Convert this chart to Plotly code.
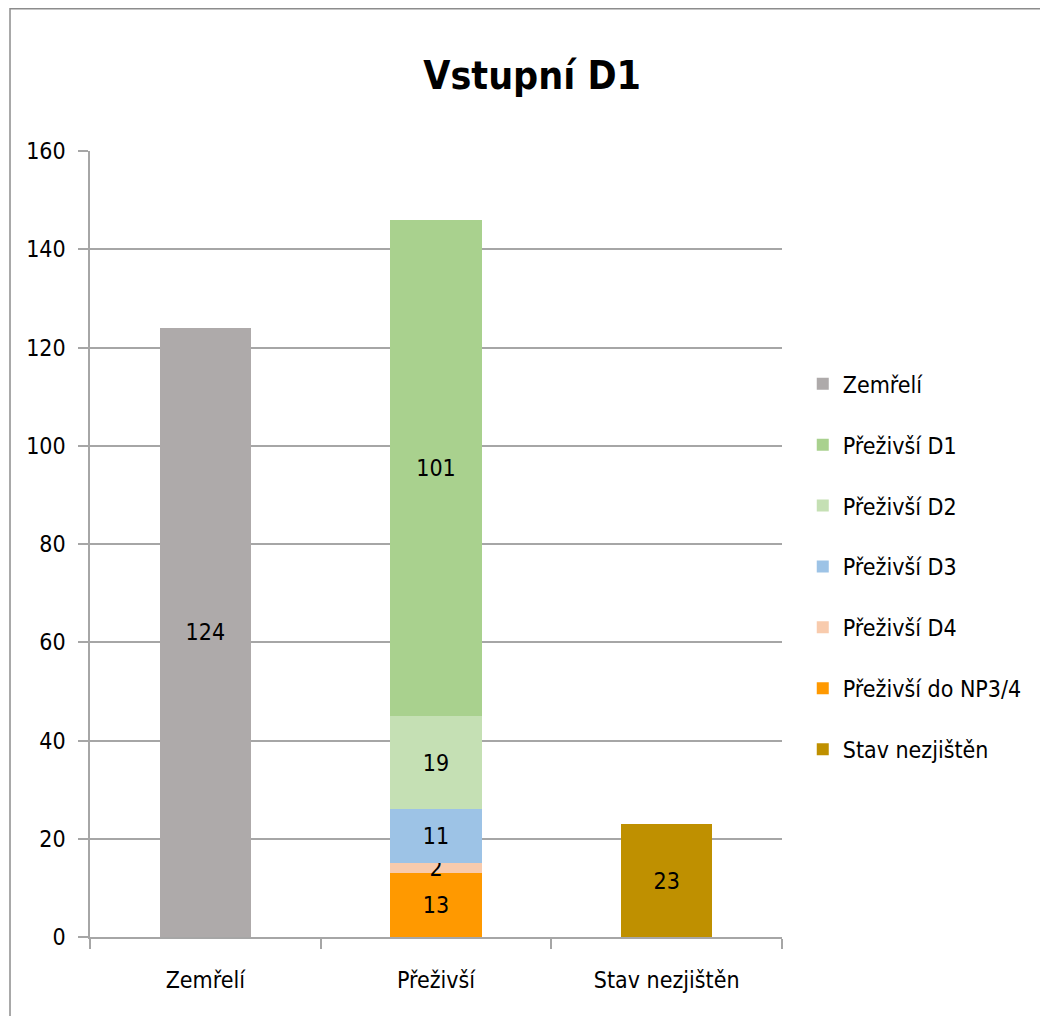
import plotly.graph_objects as go

categories = ["Zemřelí", "Přeživší", "Stav nezjištěn"]

# stacked from bottom to top
series_names = ["Zemřelí", "Přeživší do NP3/4", "Přeživší D4", "Přeživší D3",
                "Přeživší D2", "Přeživší D1", "Stav nezjištěn"]
zemreli = [124, None, None]
np34 = [None, 13, None]
d4 = [None, 2, None]
d3 = [None, 11, None]
d2 = [None, 19, None]
d1 = [None, 101, None]
nezjisten = [None, None, 23]
series_values = [zemreli, np34, d4, d3, d2, d1, nezjisten]
series_colors = ["#aeaaaa", "#ff9900", "#f8cbad", "#9dc3e6",
                 "#c5e0b4", "#a9d18e", "#bf9000"]
legend_order = ["Zemřelí", "Přeživší D1", "Přeživší D2", "Přeživší D3",
                "Přeživší D4", "Přeživší do NP3/4", "Stav nezjištěn"]

FONT = "DejaVu Sans Condensed, DejaVu Sans, sans-serif"
FS = 23

fig = go.Figure()
for name, vals, col in zip(series_names, series_values, series_colors):
    fig.add_trace(go.Bar(
        x=categories, y=vals, name=name,
        marker=dict(color=col, line=dict(width=0)),
        text=[("" if v is None else str(v)) for v in vals],
        textposition="inside", insidetextanchor="middle",
        textangle=0, constraintext="none",
        textfont=dict(family=FONT, size=FS, color="black"),
        legendgroup=name, legendrank=legend_order.index(name) + 1,
        hoverinfo="skip",
    ))

grid = "#a6a6a6"
# page body has an 8px margin, so the figure is 8px smaller and shifted
fig.update_layout(
    width=1040, height=1008,
    barmode="stack", bargap=0.605,
    margin=dict(l=82, r=266, t=143, b=79, autoexpand=False),
    paper_bgcolor="white", plot_bgcolor="white",
    font=dict(family=FONT, size=FS, color="black"),
    uniformtext=dict(minsize=FS, mode="show"),
    title=dict(text="<b>Vstupní D1</b>", x=0.504, xanchor="center",
               y=0.9335, yanchor="middle",
               font=dict(family=FONT, size=39, color="black")),
    legend=dict(x=1.03, xanchor="left", y=0.471, yanchor="middle",
                traceorder="grouped", tracegroupgap=28,
                font=dict(family=FONT, size=FS, color="black"),
                bgcolor="rgba(0,0,0,0)"),
    xaxis=dict(showline=True, linecolor=grid, linewidth=1.5,
               ticks="outside", tickson="boundaries", ticklen=10,
               tickcolor=grid, tickwidth=1.5,
               tickfont=dict(family=FONT, size=FS, color="black"),
               ticklabelstandoff=22),
    yaxis=dict(range=[0, 160], dtick=20, showgrid=True, gridcolor=grid,
               gridwidth=1.5, showline=True, linecolor=grid, linewidth=1.5,
               ticks="outside", ticklen=10, tickcolor=grid, tickwidth=1.5,
               zeroline=False,
               tickfont=dict(family=FONT, size=FS, color="black"),
               ticklabelstandoff=8),
    shapes=[dict(type="rect", xref="paper", yref="paper",
                 x0=-0.1156, x1=1.40, y0=-0.12, y1=1.181,
                 line=dict(color="#8c8c8c", width=1.5), layer="below")],
)

fig.write_html("out.html")
